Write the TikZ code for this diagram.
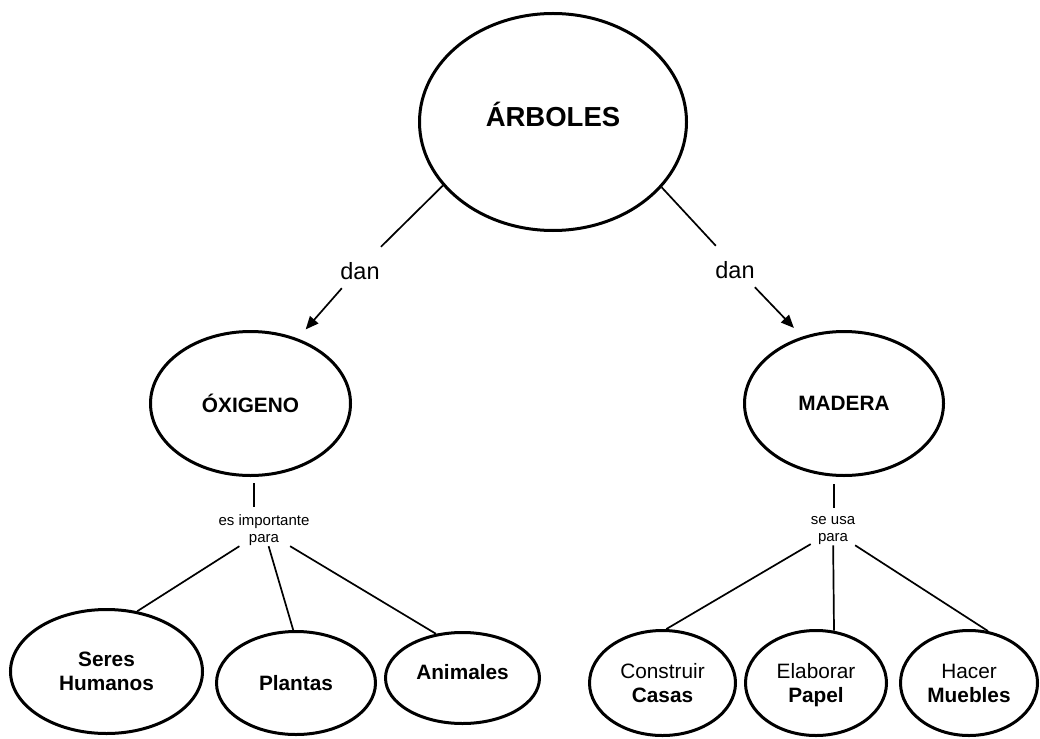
\documentclass[tikz,border=0pt]{standalone}
\usepackage{fontspec}
\setmainfont{Liberation Sans}
\usetikzlibrary{shapes.geometric,arrows.meta}

\begin{document}
\begin{tikzpicture}[x=1pt,y=-1pt,
  concept/.style={draw,ellipse,line width=3pt,inner sep=0pt,align=center},
  bigconcept/.style={concept,font=\fontsize{20.8}{24}\selectfont\bfseries},
  leaf/.style={concept,font=\fontsize{20.8}{24}\selectfont},
  link/.style={line width=1.7pt},
  arrowlink/.style={link,-{Triangle[length=13pt,width=11pt]},shorten >=12pt},
  linktext/.style={inner sep=0pt,align=center,font=\fontsize{15}{17}\selectfont},
  verb/.style={font=\fontsize{23.5}{28}\selectfont,anchor=base,inner xsep=6pt,inner ysep=0pt,text height=32pt,text depth=9pt}
]
\useasboundingbox (0,0) rectangle (1040,738);

% main concept
\node[concept,minimum width=267pt,minimum height=217pt,
      font=\fontsize{27.5}{33}\selectfont\bfseries,
      text height=21pt,text depth=11.3pt] (arb) at (553,122) {ÁRBOLES};

% second level
\node[bigconcept,minimum width=200pt,minimum height=144pt] (oxi) at (250.5,403.5) {ÓXIGENO};
\node[bigconcept,minimum width=199pt,minimum height=144pt] (mad) at (844,403.5) {MADERA};

% linking words
\node[verb] (dan1) at (360,279) {dan};
\node[verb] (dan2) at (735,278) {dan};
\node[linktext] (esp) at (264,530.5) {es importante\\para};
\node[linktext] (sup) at (833,531) {se usa\\para};

% leaves
\node[leaf,font=\fontsize{20.8}{24}\selectfont\bfseries,minimum width=192pt,minimum height=124pt] (ser) at (106.5,671.5) {Seres\\Humanos};
\node[leaf,font=\fontsize{20.8}{24}\selectfont\bfseries,minimum width=159pt,minimum height=103pt] (pla) at (296,683) {Plantas};
\node[leaf,font=\fontsize{20.8}{24}\selectfont\bfseries,minimum width=154pt,minimum height=91pt,text height=10pt,text depth=7.1pt] (ani) at (462.5,678) {Animales};
\node[leaf,minimum width=146pt,minimum height=105pt] (con) at (662.5,683) {Construir\\\textbf{Casas}};
\node[leaf,minimum width=141pt,minimum height=105pt,text depth=0pt] (ela) at (816,683) {Elaborar\\\textbf{Papel}};
\node[leaf,minimum width=137pt,minimum height=105pt] (hac) at (969,683) {Hacer\\\textbf{Muebles}};

% top connectors
\draw[link] (arb.210) -- (dan1);
\draw[arrowlink] (dan1) -- (oxi.54);
\draw[link] (arb.329) -- (dan2);
\draw[arrowlink] (dan2) -- (mad.122);

% short stems under the second level
\coordinate (oxiS) at ([xshift=3.5pt,yshift=-6pt]oxi.south);
\coordinate (espT) at ([yshift=8pt]esp.north);
\draw[link] (oxiS) -- (oxiS |- espT);
\coordinate (madS) at ([xshift=-10pt,yshift=-7pt]mad.south);
\coordinate (supT) at ([yshift=9pt]sup.north);
\draw[link] (madS) -- (madS |- supT);

% branches to the leaves
\draw[link] (esp) -- (ser.63);
\draw[link] (esp) -- (pla.93);
\draw[link] (esp) -- (ani.121);
\draw[link] (sup) -- (con.86);
\draw[link] (sup) -- (ela.71);
\draw[link] (sup) -- (hac.70);
\end{tikzpicture}
\end{document}
